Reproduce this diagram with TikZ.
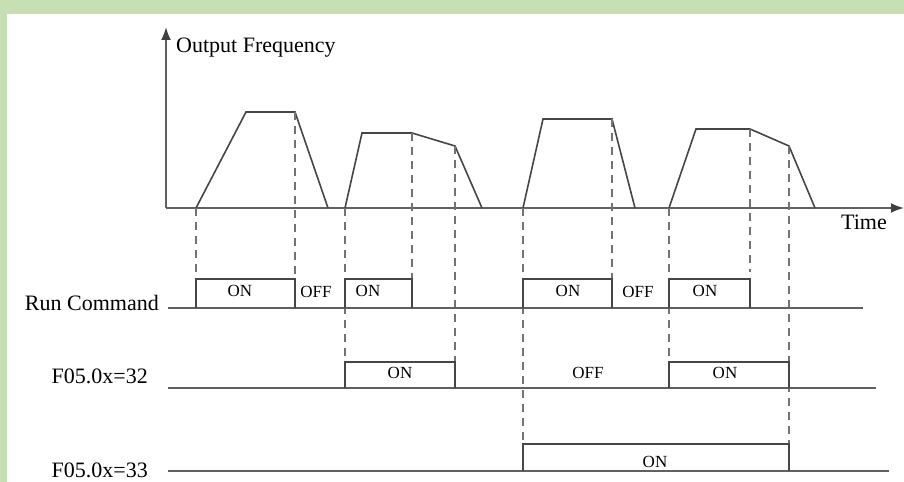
\documentclass[tikz,border=0pt]{standalone}
\usepackage{fontspec}
\setmainfont{Liberation Serif}
\usetikzlibrary{arrows.meta}
\definecolor{pagegreen}{RGB}{198,224,180}
\definecolor{ink}{RGB}{70,70,70}

\begin{document}
\begin{tikzpicture}[x=1bp, y=-1bp, >=Latex,
  axis/.style={draw=black!62, line width=2bp, -{Latex[length=13bp,width=10bp,color=black!75]}},
  wave/.style={draw=ink, line width=1.6bp},
  tick/.style={draw=black!55, dashed, dash pattern=on 8bp off 6bp, line width=1.5bp},
  lvl/.style={draw=black!62, line width=1.8bp},
  pulse/.style={draw=ink, line width=1.5bp},
  lab/.style={font=\fontsize{22bp}{25bp}\selectfont, inner sep=0pt},
  state/.style={font=\fontsize{17bp}{20bp}\selectfont, inner sep=0pt, anchor=base}]
  % frame
  \fill[pagegreen] (0,0) rectangle (904,482);
  \fill[white] (7,14) rectangle (904,482);
  \useasboundingbox (0,0) rectangle (904,482);

  % axes
  \coordinate (o) at (166,208);
  \draw[axis] (o) -- (166,27);
  \draw[axis] (o) -- (904,208);
  \node[lab, anchor=base west] (freq) at (176,53) {Output Frequency};
  \node[lab, anchor=base west] (time) at (841,230) {Time};

  % output frequency
  \draw[wave] (196,208) -- (246,112) -- (295,112) -- (328,208);
  \draw[wave] (345,208) -- (362,133) -- (412,133) -- (455,146) -- (482,208);
  \draw[wave] (523,208) -- (543,119) -- (612,119) -- (635,208);
  \draw[wave] (669,208) -- (696,129) -- (750,129) -- (789,146) -- (815,208);

  % guide lines
  \draw[tick] (196,208) -- (196,279);
  \draw[tick] (295,112) -- (295,279);
  \draw[tick] (345,208) -- (345,362);
  \draw[tick] (412,133) -- (412,279);
  \draw[tick] (455,146) -- (455,362);
  \draw[tick] (523,208) -- (523,444);
  \draw[tick] (612,119) -- (612,279);
  \draw[tick] (669,208) -- (669,362);
  \draw[tick] (750,129) -- (750,272);
  \draw[tick] (789,146) -- (789,444);

  % signal rows
  \node[lab, anchor=base east] (run) at (159,311) {Run Command};
  \node[lab, anchor=base east] (f32) at (148,383) {F05.0x=32};
  \node[lab, anchor=base east] (f33) at (148,477) {F05.0x=33};
  \draw[lvl] (168,308) -- (863,308);
  \draw[lvl] (168,388) -- (876,388);
  \draw[lvl] (168,471) -- (889,471);

  % run command
  \draw[pulse] (196,308) |- (295,279) -- (295,308);
  \draw[pulse] (345,308) |- (412,279) -- (412,308);
  \draw[pulse] (523,308) |- (612,279) -- (612,308);
  \draw[pulse] (669,308) |- (750,279) -- (750,308);
  \node[state] (run1) at (240,297) {ON};
  \node[state] (run2) at (316,298) {OFF};
  \node[state] (run3) at (368,297) {ON};
  \node[state] (run4) at (568,297) {ON};
  \node[state] (run5) at (638,298) {OFF};
  \node[state] (run6) at (705,297) {ON};

  % F05.0x=32
  \draw[pulse] (345,388) |- (455,362) -- (455,388);
  \draw[pulse] (669,388) |- (789,362) -- (789,388);
  \node[state] (mid1) at (400,378) {ON};
  \node[state] (mid2) at (588,378) {OFF};
  \node[state] (mid3) at (725,378) {ON};

  % F05.0x=33
  \draw[pulse] (523,471) |- (789,444) -- (789,471);
  \node[state] (low1) at (655,467) {ON};
\end{tikzpicture}
\end{document}
